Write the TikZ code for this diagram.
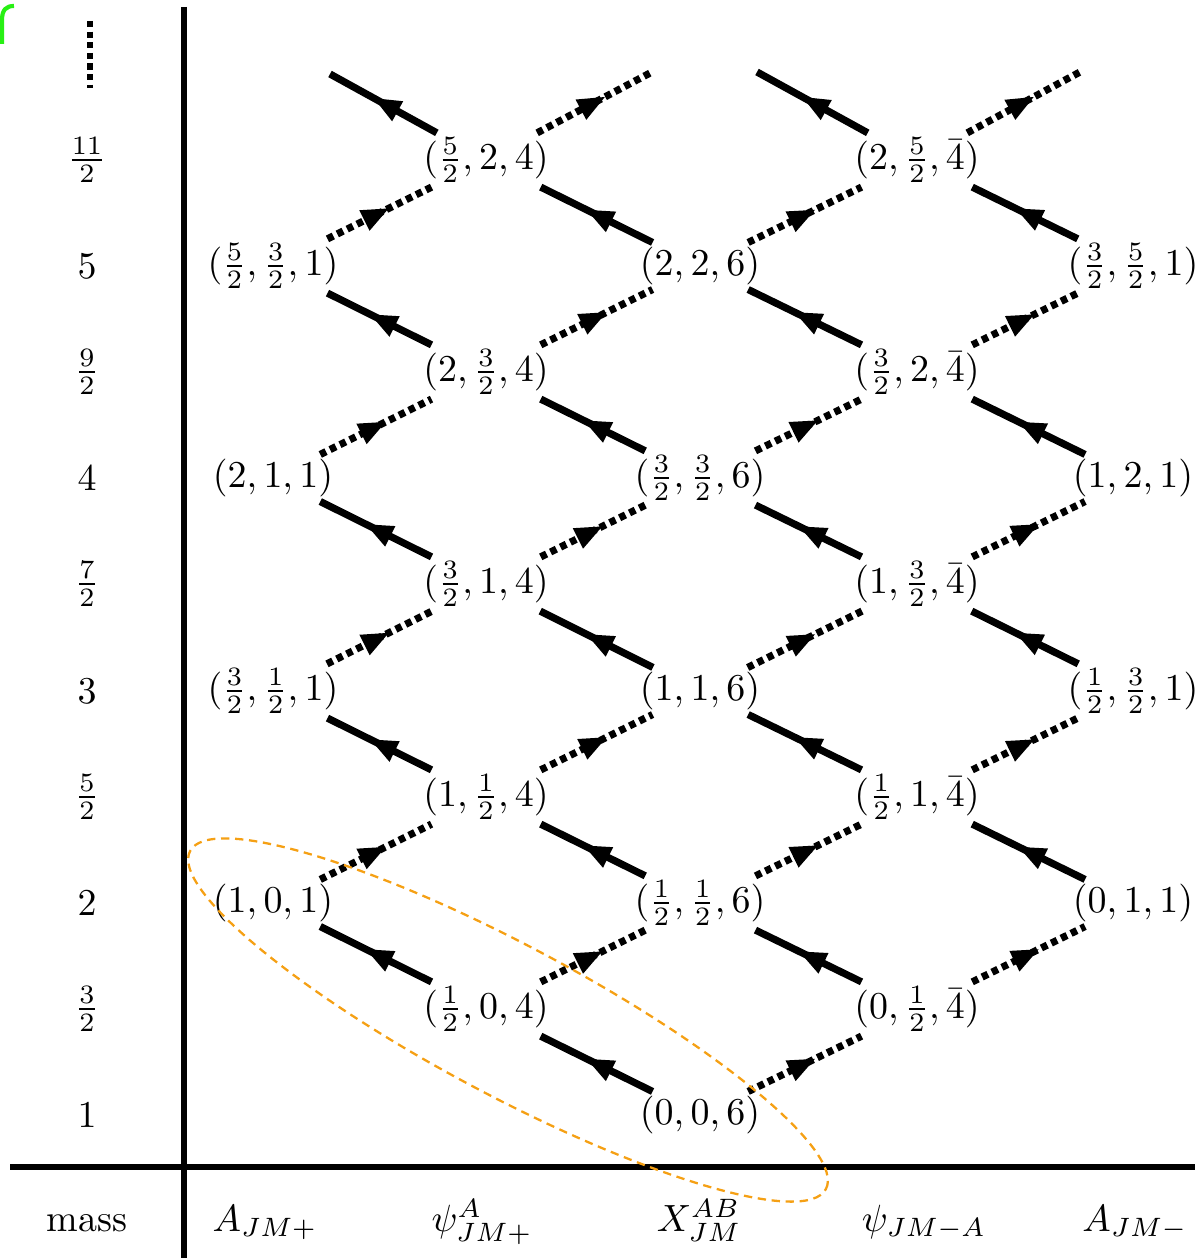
\documentclass[tikz,border=0pt]{standalone}
\usetikzlibrary{arrows.meta,decorations.markings}
\definecolor{ovalorange}{RGB}{245,160,20}
\definecolor{markgreen}{RGB}{40,240,20}
\tikzset{
  state/.style={inner sep=1pt},
  solidarr/.style={line width=1.9pt, postaction={decorate, solid},
    decoration={markings, mark=at position 0.6 with {\arrow{Triangle[length=7.5pt,width=5.4pt]}}}},
  dotarr/.style={solidarr, dash pattern=on 1.7pt off 1.2pt},
  axisline/.style={line width=1.7pt},
  oval/.style={draw=ovalorange, line width=0.6pt, dash pattern=on 2.2pt off 1.5pt},
}
\begin{document}
\begin{tikzpicture}[x=0.2636pt, y=-0.2636pt]
	\useasboundingbox (0,0) rectangle (1195,1258);
	\draw[markgreen, line width=1.1pt] (2,44) -- (2,20) .. controls (2,10) and (6,6) .. (14,6);
	
	% Axes
	\draw[axisline] (184,7) -- (184,1258);
	\draw[axisline] (10,1167) -- (1195,1167);
	
	% Mass column
	\node (m2) at (87,1115) {$1$};
	\node (m3) at (87,1009) {$\frac{3}{2}$};
	\node (m4) at (87,903) {$2$};
	\node (m5) at (87,797) {$\frac{5}{2}$};
	\node (m6) at (87,691) {$3$};
	\node (m7) at (87,584) {$\frac{7}{2}$};
	\node (m8) at (87,478) {$4$};
	\node (m9) at (87,372) {$\frac{9}{2}$};
	\node (m10) at (87,266) {$5$};
	\node (m11) at (87,160) {$\frac{11}{2}$};
	\draw[line width=1.7pt, dash pattern=on 1.6pt off 1.2pt] (90,21) -- (90,88);
	
	% Field labels
	\node[anchor=base] (mass) at (87,1231) {mass};
	\node[anchor=base] (lab1) at (265,1231) {$A_{JM+}$};
	\node[anchor=base] (lab2) at (482,1231) {$\psi^A_{JM+}$};
	\node[anchor=base] (lab3) at (699,1231) {$X^{AB}_{JM}$};
	\node[anchor=base] (lab4) at (924,1231) {$\psi_{JM-A}$};
	\node[anchor=base] (lab5) at (1135,1231) {$A_{JM-}$};
	
	% X column
	\node[state] (x2) at (700,1115) {$(0,0,6)$};
	\node[state] (x4) at (700,903) {$(\frac{1}{2},\frac{1}{2},6)$};
	\node[state] (x6) at (700,691) {$(1,1,6)$};
	\node[state] (x8) at (700,478) {$(\frac{3}{2},\frac{3}{2},6)$};
	\node[state] (x10) at (700,266) {$(2,2,6)$};
	
	% psi^A column
	\node[state] (pp3) at (486,1009) {$(\frac{1}{2},0,4)$};
	\node[state] (pp5) at (486,797) {$(1,\frac{1}{2},4)$};
	\node[state] (pp7) at (486,584) {$(\frac{3}{2},1,4)$};
	\node[state] (pp9) at (486,372) {$(2,\frac{3}{2},4)$};
	\node[state] (pp11) at (486,160) {$(\frac{5}{2},2,4)$};
	
	% A+ column
	\node[state] (ap4) at (273,903) {$(1,0,1)$};
	\node[state] (ap6) at (273,691) {$(\frac{3}{2},\frac{1}{2},1)$};
	\node[state] (ap8) at (273,478) {$(2,1,1)$};
	\node[state] (ap10) at (273,266) {$(\frac{5}{2},\frac{3}{2},1)$};
	
	% psi_- column
	\node[state] (pm3) at (917,1009) {$(0,\frac{1}{2},\bar{4})$};
	\node[state] (pm5) at (917,797) {$(\frac{1}{2},1,\bar{4})$};
	\node[state] (pm7) at (917,584) {$(1,\frac{3}{2},\bar{4})$};
	\node[state] (pm9) at (917,372) {$(\frac{3}{2},2,\bar{4})$};
	\node[state] (pm11) at (917,160) {$(2,\frac{5}{2},\bar{4})$};
	
	% A- column
	\node[state] (am4) at (1133,903) {$(0,1,1)$};
	\node[state] (am6) at (1133,691) {$(\frac{1}{2},\frac{3}{2},1)$};
	\node[state] (am8) at (1133,478) {$(1,2,1)$};
	\node[state] (am10) at (1133,266) {$(\frac{3}{2},\frac{5}{2},1)$};
	
	% open ends at the top
	\coordinate (ppl) at (330,74);
	\coordinate (ppr) at (652,72);
	\coordinate (pml) at (757,72);
	\coordinate (pmr) at (1080,72);
	
	% solid lines
	\draw[solidarr] (x2) -- (pp3);
	\draw[solidarr] (pp3) -- (ap4);
	\draw[solidarr] (x4) -- (pp5);
	\draw[solidarr] (pp5) -- (ap6);
	\draw[solidarr] (x6) -- (pp7);
	\draw[solidarr] (pp7) -- (ap8);
	\draw[solidarr] (x8) -- (pp9);
	\draw[solidarr] (pp9) -- (ap10);
	\draw[solidarr] (x10) -- (pp11);
	\draw[solidarr] (pp11) -- (ppl);
	\draw[solidarr] (pm3) -- (x4);
	\draw[solidarr] (pm5) -- (x6);
	\draw[solidarr] (pm7) -- (x8);
	\draw[solidarr] (pm9) -- (x10);
	\draw[solidarr] (pm11) -- (pml);
	\draw[solidarr] (am4) -- (pm5);
	\draw[solidarr] (am6) -- (pm7);
	\draw[solidarr] (am8) -- (pm9);
	\draw[solidarr] (am10) -- (pm11);
	
	% dotted lines
	\draw[dotarr] (x2) -- (pm3);
	\draw[dotarr] (pm3) -- (am4);
	\draw[dotarr] (x4) -- (pm5);
	\draw[dotarr] (pm5) -- (am6);
	\draw[dotarr] (x6) -- (pm7);
	\draw[dotarr] (pm7) -- (am8);
	\draw[dotarr] (x8) -- (pm9);
	\draw[dotarr] (pm9) -- (am10);
	\draw[dotarr] (x10) -- (pm11);
	\draw[dotarr] (pm11) -- (pmr);
	\draw[dotarr] (pp3) -- (x4);
	\draw[dotarr] (pp5) -- (x6);
	\draw[dotarr] (pp7) -- (x8);
	\draw[dotarr] (pp9) -- (x10);
	\draw[dotarr] (pp11) -- (ppr);
	\draw[dotarr] (ap4) -- (pp5);
	\draw[dotarr] (ap6) -- (pp7);
	\draw[dotarr] (ap8) -- (pp9);
	\draw[dotarr] (ap10) -- (pp11);
	
	% highlighted group
	\draw[oval, rotate around={-28:(508,1020)}] (508,1020) ellipse [x radius=94.9pt, y radius=19.8pt];
\end{tikzpicture}
\end{document}
